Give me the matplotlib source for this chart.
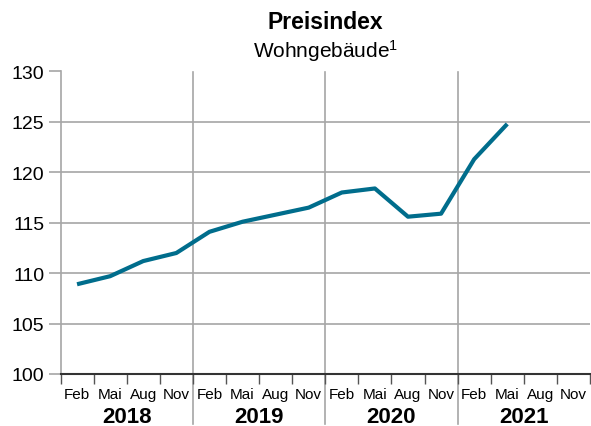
import matplotlib
matplotlib.use("Agg")
import matplotlib.pyplot as plt
import matplotlib.transforms as mtransforms

plt.rcParams['font.family'] = ['Liberation Sans', 'DejaVu Sans']
plt.rcParams['mathtext.fontset'] = 'custom'
plt.rcParams['mathtext.rm'] = 'Liberation Sans'
plt.rcParams['mathtext.it'] = 'Liberation Sans'

years = ["2018", "2019", "2020", "2021"]
months = ["Feb", "Mai", "Aug", "Nov"]
values = [108.9, 109.7, 111.2, 112.0,
          114.1, 115.1, 115.8, 116.5,
          118.0, 118.4, 115.6, 115.9,
          121.3, 124.8]
yticks = [100, 105, 110, 115, 120, 125, 130]

W, H = 591, 427
fig = plt.figure(figsize=(W / 100, H / 100), dpi=100)
left, right, top, bottom = 60.5, 590, 72.5, 375
ax = fig.add_axes([left / W, 1 - bottom / H, (right - left) / W, (bottom - top) / H])

grid_c = "#a6a6a6"
line_c = "#006d8c"

n_slots = len(years) * len(months)
xs = [i + 0.5 for i in range(len(values))]
ax.plot(xs, values, color=line_c, lw=3.0, solid_joinstyle="round", solid_capstyle="butt", zorder=3)

ax.set_xlim(0, n_slots)
ax.set_ylim(100, 130)
ax.set_yticks(yticks)
ax.set_yticklabels([str(v) for v in yticks], fontsize=14)
ax.tick_params(axis="y", length=9, width=1.2, color=grid_c, pad=2.5)
for v in yticks[1:]:
    ax.axhline(v, color=grid_c, lw=1.2, zorder=1)

for s in ["top", "right"]:
    ax.spines[s].set_visible(False)
ax.spines["left"].set_color(grid_c)
ax.spines["left"].set_linewidth(1.2)
ax.spines["bottom"].set_color("#333333")
ax.spines["bottom"].set_linewidth(1.5)
ax.spines["bottom"].set_zorder(4)

ax.set_xticks(range(n_slots + 1))
ax.set_xticklabels([])
ax.tick_params(axis="x", length=7, width=1.0, color="#555555")

ext = 50 / (bottom - top)
for k in range(1, len(years)):
    ax.axvline(k * len(months), ymin=-ext, ymax=1, color=grid_c, lw=1.2, clip_on=False, zorder=1)

trans = mtransforms.blended_transform_factory(ax.transData, ax.transAxes)
for yi, y in enumerate(years):
    for mi, m in enumerate(months):
        ax.text(yi * 4 + mi + 0.5, -20 / (bottom - top), m, transform=trans,
                ha="center", va="center", fontsize=11)
    ax.text(yi * 4 + 2, -43 / (bottom - top), y, transform=trans,
            ha="center", va="center", fontsize=16, fontweight="bold")

cx = (left + right) / 2 / W
fig.text(cx, 1 - 29.3 / H, "Preisindex", ha="center", va="baseline", fontsize=16.5, fontweight="bold")
fig.text(cx, 1 - 58.3 / H, "Wohngebäude$^1$", ha="center", va="baseline", fontsize=15)

fig.savefig("out.png", dpi=100)
